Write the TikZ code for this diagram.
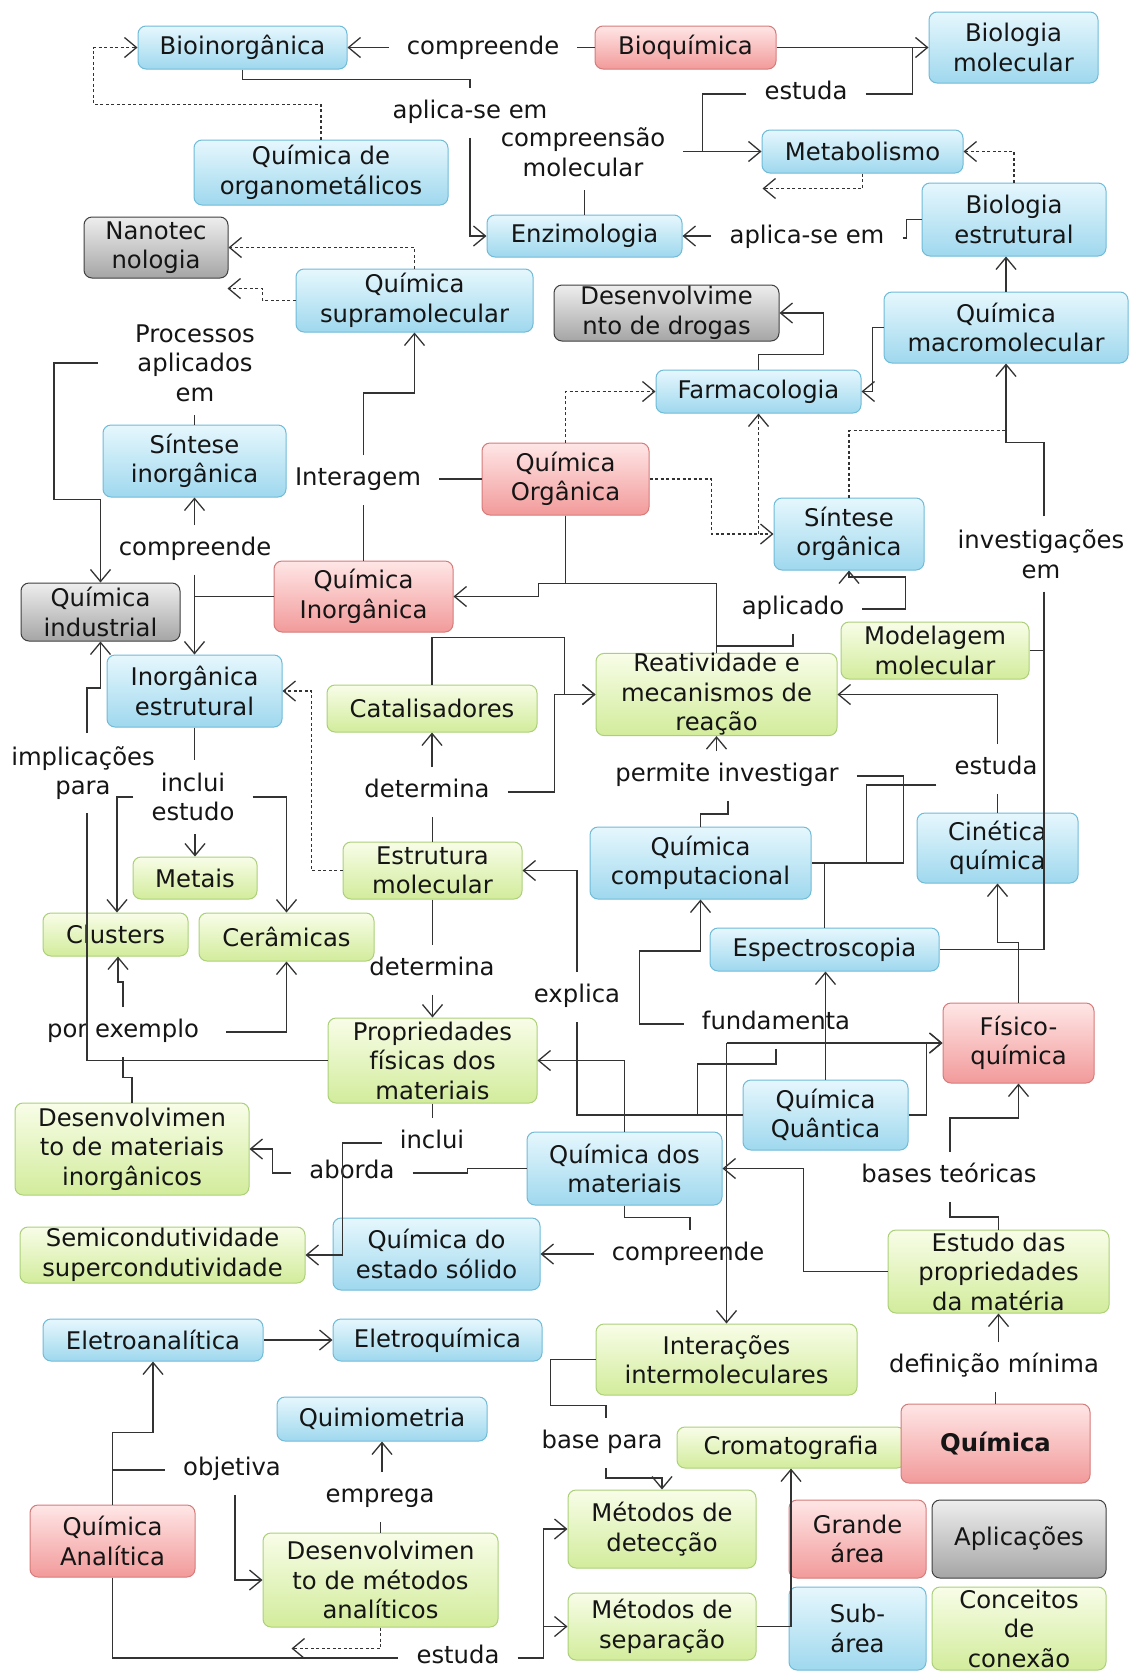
\documentclass[tikz,border=0pt]{standalone}
\usepackage{fontspec}
\setmainfont{DejaVu Sans}
\usetikzlibrary{arrows.meta,calc}
\definecolor{blT}{HTML}{E6F7FD}
\definecolor{blM}{HTML}{9FD8EE}
\definecolor{blB}{HTML}{6FBBD8}
\definecolor{rdT}{HTML}{FFE6E6}
\definecolor{rdM}{HTML}{F29A9A}
\definecolor{rdB}{HTML}{D77A7A}
\definecolor{grT}{HTML}{F8FDE8}
\definecolor{grM}{HTML}{D2EC9B}
\definecolor{grB}{HTML}{ACD07A}
\definecolor{gyT}{HTML}{EEEEEE}
\definecolor{gyM}{HTML}{A5A5A5}
\definecolor{gyB}{HTML}{404040}
\definecolor{lnc}{HTML}{333333}
\definecolor{txt}{HTML}{151515}
\newcommand\bx[7]{\node[#6, minimum width={(#4-#2)*1pt}, minimum height={(#5-#3)*1pt}] (#1) at ({(#2+#4)/2},{(#3+#5)/2}) {#7};}
\begin{document}
\begin{tikzpicture}[x=1pt,y=-1pt,
  font=\fontsize{24.3}{29.5}\selectfont,
  box/.style={rounded corners=8pt, inner sep=0pt, align=center, line width=1pt, text=txt},
  bl/.style={box, draw=blB, top color=blT, bottom color=blM},
  rd/.style={box, draw=rdB, top color=rdT, bottom color=rdM},
  gr/.style={box, draw=grB, top color=grT, bottom color=grM},
  gy/.style={box, draw=gyB, top color=gyT, bottom color=gyM},
  lbl/.style={inner xsep=18pt, inner ysep=13pt, text height=17.5pt, text depth=6pt, text=txt},
  lblm/.style={inner xsep=18pt, inner ysep=13pt, align=center, text=txt},
  conn/.style={draw=lnc, line width=1.3pt},
  arr/.style={conn, -{Straight Barb[length=12pt,width=20pt,line width=1.3pt]}},
  dsh/.style={dash pattern=on 3pt off 2.5pt}]
\fill[white] (0,0) rectangle (1131,1671);
\useasboundingbox (0,0) rectangle (1131,1671);

% concept boxes
\bx{bioinorg}{138}{26}{347}{69}{bl}{Bioinorgânica}
\bx{bioq}{595}{26}{776}{69}{rd}{Bioquímica}
\bx{biomol}{929}{12}{1098}{83}{bl}{Biologia\\molecular}
\bx{organomet}{194}{140}{448}{205}{bl}{Química de\\organometálicos}
\bx{metab}{762}{130}{963}{173}{bl}{Metabolismo}
\bx{bioestr}{922}{183}{1106}{256}{bl}{Biologia\\estrutural}
\bx{enzim}{487}{215}{682}{257}{bl}{Enzimologia}
\bx{nanotec}{84}{217}{228}{278}{gy}{Nanotec\\nologia}
\bx{supra}{296}{269}{533}{332}{bl}{Química\\supramolecular}
\bx{drogas}{554}{285}{779}{341}{gy}{Desenvolvime\\nto de drogas}
\bx{macro}{884}{292}{1128}{363}{bl}{Química\\macromolecular}
\bx{farmaco}{656}{370}{861}{413}{bl}{Farmacologia}
\bx{sintinorg}{103}{425}{286}{497}{bl}{Síntese\\inorgânica}
\bx{qorg}{482}{443}{649}{515}{rd}{Química\\Orgânica}
\bx{sintorg}{774}{498}{924}{570}{bl}{Síntese\\orgânica}
\bx{qinorg}{274}{561}{453}{632}{rd}{Química\\Inorgânica}
\bx{qind}{21}{583}{180}{641}{gy}{Química\\industrial}
\bx{modelagem}{841}{622}{1029}{679}{gr}{Modelagem\\molecular}
\bx{inorgestr}{107}{655}{282}{727}{bl}{Inorgânica\\estrutural}
\bx{catal}{327}{685}{537}{732}{gr}{Catalisadores}
\bx{reativ}{596}{655}{837}{734}{gr}{Reatividade e\\mecanismos de\\reação}
\bx{qcomp}{590}{827}{811}{899}{bl}{Química\\computacional}
\bx{cinet}{917}{813}{1078}{883}{bl}{Cinética\\química}
\bx{estrmol}{343}{842}{522}{899}{gr}{Estrutura\\molecular}
\bx{metais}{133}{857}{257}{899}{gr}{Metais}
\bx{clusters}{43}{913}{188}{956}{gr}{Clusters}
\bx{ceram}{199}{913}{374}{961}{gr}{Cerâmicas}
\bx{espectro}{710}{928}{939}{971}{bl}{Espectroscopia}
\bx{fisq}{943}{1003}{1094}{1083}{rd}{Físico-\\química}
\bx{propfis}{328}{1018}{537}{1103}{gr}{Propriedades\\físicas dos\\materiais}
\bx{qquant}{743}{1080}{908}{1150}{bl}{Química\\Quântica}
\bx{desmat}{15}{1103}{249}{1195}{gr}{Desenvolvimen\\to de materiais\\inorgânicos}
\bx{qmat}{527}{1132}{722}{1205}{bl}{Química dos\\materiais}
\bx{qes}{333}{1218}{540}{1290}{bl}{Química do\\estado sólido}
\bx{semic}{20}{1227}{305}{1283}{gr}{Semicondutividade\\supercondutividade}
\bx{estudoprop}{888}{1230}{1109}{1313}{gr}{Estudo das\\propriedades\\da matéria}
\bx{eletroan}{43}{1319}{263}{1361}{bl}{Eletroanalítica}
\bx{eletroq}{333}{1319}{542}{1361}{bl}{Eletroquímica}
\bx{interac}{596}{1324}{857}{1395}{gr}{Interações\\intermoleculares}
\bx{quimiom}{277}{1397}{487}{1441}{bl}{Quimiometria}
\bx{croma}{677}{1427}{905}{1468}{gr}{Cromatografia}
\bx{quimica}{901}{1404}{1090}{1483}{rd}{\bfseries Química}
\bx{metdet}{568}{1490}{756}{1568}{gr}{Métodos de\\detecção}
\bx{grande}{789}{1500}{926}{1578}{rd}{Grande\\área}
\bx{aplic}{932}{1500}{1106}{1578}{gy}{Aplicações}
\bx{qanal}{30}{1505}{195}{1577}{rd}{Química\\Analítica}
\bx{desmet}{263}{1533}{498}{1627}{gr}{Desenvolvimen\\to de métodos\\analíticos}
\bx{metsep}{568}{1593}{756}{1660}{gr}{Métodos de\\separação}
\bx{subarea}{789}{1587}{926}{1670}{bl}{Sub-\\área}
\bx{conceitos}{932}{1587}{1106}{1670}{gr}{Conceitos\\de\\conexão}

% linking phrases
\node[lbl] (lcomp1) at (483,49) {compreende};
\node[lbl] (lapl1) at (470,113) {aplica-se em};
\node[lblm] (lcompmol) at (583,152) {compreensão\\molecular};
\node[lbl] (lestuda1) at (806,94) {estuda};
\node[lbl] (lapl2) at (807,238) {aplica-se em};
\node[lblm] (lproc) at (195,363) {Processos\\aplicados\\em};
\node[lbl] (linterag) at (358,480) {Interagem};
\node[lbl] (lcomp2) at (195,550) {compreende};
\node[lbl] (laplicado) at (793,609) {aplicado};
\node[lblm] (linvest) at (1041,554) {investigações\\em};
\node[lblm] (limplic) at (83,773) {implicações\\para};
\node[lblm] (lincl1) at (193,797) {inclui\\estudo};
\node[lbl] (ldet1) at (427,792) {determina};
\node[lbl] (lpermite) at (727,776) {permite investigar};
\node[lbl] (lestuda2) at (996,769) {estuda};
\node[lbl] (ldet2) at (432,970) {determina};
\node[lbl] (lexplica) at (577,997) {explica};
\node[lbl] (lfund) at (776,1024) {fundamenta};
\node[lbl] (lporex) at (123,1032) {por exemplo};
\node[lbl] (lincl2) at (432,1143) {inclui};
\node[lbl] (labord) at (352,1173) {aborda};
\node[lbl] (lbases) at (949,1177) {bases teóricas};
\node[lbl] (lcomp3) at (688,1255) {compreende};
\node[lbl] (ldef) at (994,1367) {definição mínima};
\node[lbl] (lbase) at (602,1443) {base para};
\node[lbl] (lobj) at (232,1470) {objetiva};
\node[lbl] (lempr) at (380,1497) {emprega};
\node[lbl] (lestuda3) at (458,1658) {estuda};

% connectors - top
\draw[conn] (bioq.west) -- (lcomp1.east |- bioq.west);
\draw[arr] (lcomp1.west |- bioinorg.east) -- (bioinorg.east);
\draw[conn] (bioinorg.south) -- ++(0,10) -| (lapl1.north);
\draw[arr] (lapl1.south) |- (enzim.west);
\draw[arr,dsh] (organomet.north) -- ++(0,-35) -| ([xshift=-44pt]bioinorg.west) -- (bioinorg.west);
\draw[conn] (enzim.north) -- (enzim.north |- lcompmol.south);
\draw[arr] (lcompmol.east |- metab.west) -- (metab.west);
\draw[conn] (lestuda1.west) -| ([xshift=-59pt]metab.west);
\draw[conn] (lestuda1.east) -| ([xshift=-16pt]biomol.west);
\draw[arr] (bioq.east) -- (biomol.west);
\draw[arr,dsh] (metab.south) -- ++(0,15) -- ++(-100,0);
\draw[arr,dsh] (bioestr.north) |- (metab.east);
\draw[arr] (lapl2.west |- enzim.east) -- (enzim.east);
\draw[conn] (lapl2.east) -- ++(4,0) |- (bioestr.west);
\draw[arr] (macro.north) -- (macro.north |- bioestr.south);
\draw[arr] (macro.west) -- ++(-11,0) |- (farmaco.east);
\draw[arr] (farmaco.north) -- ++(0,-15) -| ([xshift=44pt]drogas.east) -- (drogas.east);
\draw[arr,dsh] (supra.north) |- (nanotec.east);
\draw[arr,dsh] (supra.west) -- ++(-33,0) -- ++(0,-12) -- ++(-35,0);
\draw[arr] ([xshift=-19pt]lproc.west) -| ([xshift=-46.5pt,yshift=83pt]qind.north) -- ([yshift=83pt]qind.north) -- (qind.north);
\draw[conn] (sintinorg.north) -- (sintinorg.north |- lproc.south);
\draw[arr] (sintinorg.south |- lcomp2.north) -- (sintinorg.south);
\draw[arr] (inorgestr.north |- lcomp2.south) -- (inorgestr.north);
\draw[conn] (qinorg.west) -- (qinorg.west -| inorgestr.north);
\draw[conn] (qinorg.north) -- (qinorg.north |- linterag.south);
\draw[arr] (qinorg.north |- linterag.north) -- ++(0,-62) -| (supra.south);
\draw[conn] (qorg.west -| linterag.east) -- (qorg.west);
\draw[arr,dsh] (qorg.north) |- (farmaco.west);
\draw[arr,dsh] (qorg.east) -- ++(62,0) |- (sintorg.west);
\draw[arr,dsh] (farmaco.south |- sintorg.west) -- (farmaco.south);
\draw[conn,dsh] (sintorg.north) -- ++(0,-67) -- ++(157,0);
\draw[arr] ([xshift=3pt]linvest.north) -- ++(0,-74) -| (macro.south);
\draw[conn] ([xshift=3pt]linvest.south) |- (espectro.east);
\draw[conn] (modelagem.east) -- ++(15,0);
% middle
\draw[arr] (qorg.south) -- ++(0,68) -- ++(-27,0) |- (qinorg.east);
\draw[conn] (qorg.south) -- ++(0,68) -| (reativ.north);
\draw[conn] (laplicado.south) -- ++(0,12) -| (reativ.north);
\draw[arr] (laplicado.east) -| ++(43,-32) -| (sintorg.south);
\draw[arr] (catal.north) -- ++(0,-47) -| ([xshift=-31pt]reativ.west) -- (reativ.west);
\draw[arr] (ldet1.east) -| ([xshift=-41pt]reativ.west) -- (reativ.west);
\draw[arr] (catal.south |- ldet1.north) -- (catal.south);
\draw[conn] (estrmol.north) -- (estrmol.north |- ldet1.south);
\draw[conn] (estrmol.south) -- (estrmol.south |- ldet2.north);
\draw[arr] (propfis.north |- ldet2.south) -- (propfis.north);
\draw[arr,dsh] (estrmol.west) -- ++(-31,0) |- (inorgestr.east);
\draw[arr] (reativ.south |- lpermite.north) -- (reativ.south);
\draw[conn] ([xshift=1pt]lpermite.south) -- ++(0,13) -| (qcomp.north);
\draw[conn] (lpermite.east) -| ([xshift=92pt]qcomp.east) -- (qcomp.east);
\draw[conn] ([yshift=-16pt]lestuda2.west) -| ([xshift=55pt]qcomp.east);
\draw[conn] (espectro.north) -- (espectro.north |- qcomp.east);
\draw[conn] (cinet.north |- lestuda2.south) -- (cinet.north);
\draw[arr] (cinet.north |- lestuda2.north) |- (reativ.east);
\draw[arr] (fisq.north) -- ++(0,-60) -| (cinet.south);
\draw[arr] (lexplica.north) |- (estrmol.east);
\draw[conn] (qquant.west) -| (lexplica.south);
\draw[arr] (lfund.west) -- ++(-44,0) -- ++(0,-73) -| (qcomp.south);
\draw[conn] (lfund.south) -- ++(0,15) -| ([xshift=-45pt]qquant.west);
\draw[arr] (qquant.north) -- (qquant.north |- espectro.south);
\draw[arr] (qquant.east) -- ++(18,0) |- (fisq.west);
\draw[arr] (interac.north |- fisq.west) -- (fisq.west);
\draw[arr] (interac.north |- fisq.west) -- (interac.north);
\draw[arr] (qmat.north) |- (propfis.east);
\draw[arr] (estudoprop.west) -- ++(-84,0) |- (qmat.east);
\draw[arr] ([xshift=1pt]lbases.north) -- ++(0,-34) -| (fisq.south);
\draw[conn] ([xshift=1pt]lbases.south) -- ++(0,15) -| (estudoprop.north);
\draw[conn] (quimica.north) -- (quimica.north |- ldef.south);
\draw[arr] (estudoprop.south |- ldef.north) -- (estudoprop.south);
\draw[conn] (qmat.south) -- ++(0,12) -| ([xshift=2pt]lcomp3.north);
\draw[arr] (lcomp3.west |- qes.east) -- (qes.east);
\draw[conn] (propfis.south) -- (propfis.south |- lincl2.north);
\draw[arr] (lincl2.west) -- ++(-39,0) |- (semic.east);
\draw[arr] (labord.west) -- ++(-19,0) |- (desmat.east);
\draw[conn] (labord.east) -- ++(55,0) |- (qmat.west);
% left column
\draw[conn] (desmat.north) -- ++(0,-25) -| (lporex.south);
\draw[arr] (lporex.north) -- ++(0,-25) -| ([xshift=2.5pt]clusters.south);
\draw[arr] ([xshift=9pt]lporex.east) -| (ceram.south);
\draw[conn] (propfis.west) -| ([xshift=4pt]limplic.south);
\draw[arr] ([xshift=4pt]limplic.north) -- ++(0,-45) -| (qind.south);
\draw[conn] (inorgestr.south) -- (inorgestr.south |- lincl1.north);
\draw[arr] (metais.north |- lincl1.south) -- (metais.north);
\draw[arr] (lincl1.west) -| ([xshift=1.5pt]clusters.north);
\draw[arr] (lincl1.east) -| (ceram.north);
% bottom
\draw[arr] (eletroan.east) -- (eletroq.west);
\draw[arr] (qanal.north) -- ++(0,-72) -| (eletroan.south);
\draw[conn] (lobj.west) -- (lobj.west -| qanal.north);
\draw[arr] ([xshift=3pt]lobj.south) |- (desmet.west);
\draw[conn] (desmet.north) -- (desmet.north |- lempr.south);
\draw[arr] (quimiom.south |- lempr.north) -- (quimiom.south);
\draw[arr,dsh] (desmet.south) -- ++(0,21) -- ++(-89,0);
\draw[conn] (qanal.south) |- (lestuda3.west);
\draw[arr] (lestuda3.east) -| ([xshift=-24pt]metdet.west) -- (metdet.west);
\draw[arr] ([xshift=-24pt]metsep.west) -- (metsep.west);
\draw[arr] (metsep.east) -| (croma.south);
\draw[conn] (interac.west) -- ++(-45,0) -- ++(0,46) -| ([xshift=4pt]lbase.north);
\draw[arr] ([xshift=4pt]lbase.south) -- ++(0,10) -| (metdet.north);
\end{tikzpicture}
\end{document}
